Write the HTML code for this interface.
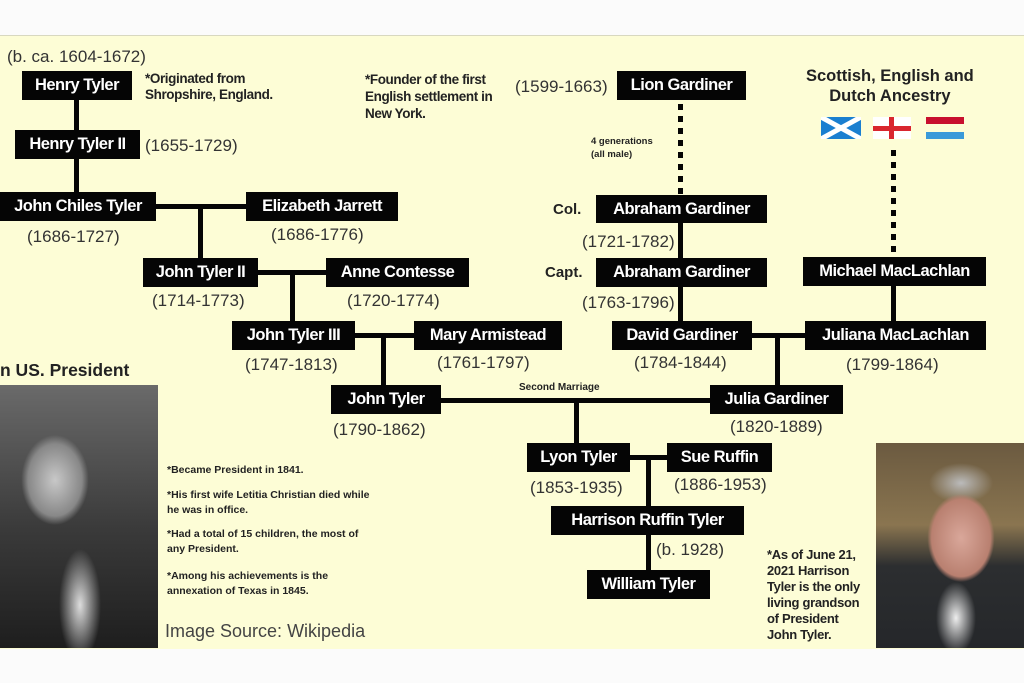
<!DOCTYPE html>
<html><head><meta charset="utf-8"><style>
body{margin:0;width:1024px;height:683px;background:#fbfbfb;position:relative;overflow:hidden;font-family:"Liberation Sans",Arial,sans-serif}
#bg{position:absolute;left:0;top:35px;width:1024px;height:613px;background:#fdfdd6;border-top:1px solid #d8d8c0}
.b{position:absolute;background:#050505;color:#fff;font-weight:bold;font-size:16.5px;display:flex;align-items:center;justify-content:center;white-space:nowrap;letter-spacing:-0.5px}
.l{position:absolute;background:#050505}
.d{position:absolute;color:#333;font-size:17px;white-space:nowrap}
.n{position:absolute;color:#222;font-weight:bold;font-size:10.5px;line-height:15px}
.dot{position:absolute;width:5px;background:repeating-linear-gradient(#050505 0 6px,transparent 6px 12px)}
</style></head><body>
<div id="bg"></div>
<div class="l" style="left:74px;top:99px;width:5px;height:94px"></div>
<div class="l" style="left:156px;top:204px;width:90px;height:5px"></div>
<div class="l" style="left:198px;top:206px;width:5px;height:53px"></div>
<div class="l" style="left:258px;top:270px;width:68px;height:5px"></div>
<div class="l" style="left:290px;top:272px;width:5px;height:50px"></div>
<div class="l" style="left:355px;top:333px;width:59px;height:5px"></div>
<div class="l" style="left:381px;top:335px;width:5px;height:51px"></div>
<div class="l" style="left:441px;top:398px;width:269px;height:5px"></div>
<div class="l" style="left:574px;top:400px;width:5px;height:44px"></div>
<div class="l" style="left:630px;top:455px;width:37px;height:5px"></div>
<div class="l" style="left:646px;top:457px;width:5px;height:114px"></div>
<div class="dot" style="left:678px;top:104px;height:92px"></div>
<div class="l" style="left:678px;top:222px;width:5px;height:100px"></div>
<div class="l" style="left:752px;top:333px;width:53px;height:5px"></div>
<div class="l" style="left:775px;top:335px;width:5px;height:51px"></div>
<div class="dot" style="left:891px;top:150px;height:108px"></div>
<div class="l" style="left:891px;top:285px;width:5px;height:37px"></div>
<div class="b" style="left:22px;top:71px;width:110px;height:29px">Henry Tyler</div>
<div class="b" style="left:15px;top:130px;width:125px;height:29px">Henry Tyler II</div>
<div class="b" style="left:0;top:192px;width:156px;height:29px">John Chiles Tyler</div>
<div class="b" style="left:246px;top:192px;width:152px;height:29px">Elizabeth Jarrett</div>
<div class="b" style="left:143px;top:258px;width:115px;height:29px">John Tyler II</div>
<div class="b" style="left:326px;top:258px;width:143px;height:29px">Anne Contesse</div>
<div class="b" style="left:232px;top:321px;width:123px;height:29px">John Tyler III</div>
<div class="b" style="left:414px;top:321px;width:148px;height:29px">Mary Armistead</div>
<div class="b" style="left:331px;top:385px;width:110px;height:29px">John Tyler</div>
<div class="b" style="left:710px;top:385px;width:133px;height:29px">Julia Gardiner</div>
<div class="b" style="left:617px;top:71px;width:129px;height:29px">Lion Gardiner</div>
<div class="b" style="left:596px;top:195px;width:171px;height:28px">Abraham Gardiner</div>
<div class="b" style="left:596px;top:258px;width:171px;height:29px">Abraham Gardiner</div>
<div class="b" style="left:612px;top:321px;width:140px;height:29px">David Gardiner</div>
<div class="b" style="left:803px;top:257px;width:183px;height:29px">Michael MacLachlan</div>
<div class="b" style="left:805px;top:321px;width:181px;height:29px">Juliana MacLachlan</div>
<div class="b" style="left:527px;top:443px;width:103px;height:29px">Lyon Tyler</div>
<div class="b" style="left:667px;top:443px;width:105px;height:29px">Sue Ruffin</div>
<div class="b" style="left:551px;top:506px;width:193px;height:29px">Harrison Ruffin Tyler</div>
<div class="b" style="left:587px;top:570px;width:123px;height:29px">William Tyler</div>
<div class="d" style="left:7px;top:47px">(b. ca. 1604-1672)</div>
<div class="d" style="left:145px;top:136px">(1655-1729)</div>
<div class="d" style="left:27px;top:227px">(1686-1727)</div>
<div class="d" style="left:271px;top:225px">(1686-1776)</div>
<div class="d" style="left:152px;top:291px">(1714-1773)</div>
<div class="d" style="left:347px;top:291px">(1720-1774)</div>
<div class="d" style="left:245px;top:355px">(1747-1813)</div>
<div class="d" style="left:437px;top:353px">(1761-1797)</div>
<div class="d" style="left:333px;top:420px">(1790-1862)</div>
<div class="d" style="left:730px;top:417px">(1820-1889)</div>
<div class="d" style="left:515px;top:77px">(1599-1663)</div>
<div class="d" style="left:582px;top:232px">(1721-1782)</div>
<div class="d" style="left:582px;top:293px">(1763-1796)</div>
<div class="d" style="left:634px;top:353px">(1784-1844)</div>
<div class="d" style="left:846px;top:355px">(1799-1864)</div>
<div class="d" style="left:530px;top:478px">(1853-1935)</div>
<div class="d" style="left:674px;top:475px">(1886-1953)</div>
<div class="d" style="left:656px;top:540px">(b. 1928)</div>
<div class="d" style="left:553px;top:201px;font-weight:bold;color:#222;font-size:15px">Col.</div>
<div class="d" style="left:545px;top:264px;font-weight:bold;color:#222;font-size:15px">Capt.</div>
<div class="n" style="left:519px;top:380px;font-size:10px">Second Marriage</div>
<div class="n" style="left:591px;top:135px;font-size:9.5px;line-height:13px">4 generations<br>(all male)</div>
<div class="n" style="left:145px;top:71px;font-size:13.5px;line-height:16px;letter-spacing:-0.4px">*Originated from<br>Shropshire, England.</div>
<div class="n" style="left:365px;top:71px;font-size:13.5px;line-height:17px;letter-spacing:-0.4px">*Founder of the first<br>English settlement in<br>New York.</div>
<div class="d" style="left:806px;top:66px;font-weight:bold;color:#222;text-align:center;line-height:20px;font-size:16.5px">Scottish, English and<br>Dutch Ancestry</div>
<svg style="position:absolute;left:821px;top:117px" width="40" height="22"><rect width="40" height="22" fill="#1a7fd0"/><path d="M0 0L40 22M40 0L0 22" stroke="#fff" stroke-width="5"/></svg>
<svg style="position:absolute;left:873px;top:117px" width="38" height="22"><rect width="38" height="22" fill="#fff"/><rect x="16" width="5" height="22" fill="#d9262e"/><rect y="9" width="38" height="5" fill="#d9262e"/></svg>
<svg style="position:absolute;left:926px;top:117px" width="38" height="22"><rect width="38" height="7" fill="#c8102e"/><rect y="7" width="38" height="8" fill="#fdfdd6"/><rect y="15" width="38" height="7" fill="#3a9ad9"/></svg>
<div class="d" style="left:0;top:360px;font-weight:bold;color:#222;font-size:17.5px">n US. President</div>
<div style="position:absolute;left:0;top:385px;width:158px;height:263px;background:radial-gradient(ellipse 45px 60px at 55px 95px,#c8c8c8,#888 60%,transparent 75%),radial-gradient(ellipse 30px 80px at 80px 220px,#ddd,transparent 70%),linear-gradient(#6a6a6a,#3a3a3a 55%,#1e1e1e)"></div>
<div class="n" style="left:167px;top:463px">*Became President in 1841.</div>
<div class="n" style="left:167px;top:488px">*His first wife Letitia Christian died while<br>he was in office.</div>
<div class="n" style="left:167px;top:527px">*Had a total of 15 children, the most of<br>any President.</div>
<div class="n" style="left:167px;top:569px">*Among his achievements is the<br>annexation of Texas in 1845.</div>
<div class="d" style="left:165px;top:621px;font-size:18px;color:#444">Image Source: Wikipedia</div>
<div class="n" style="left:767px;top:547px;font-size:13px;line-height:16px;letter-spacing:-0.3px">*As of June 21,<br>2021 Harrison<br>Tyler is the only<br>living grandson<br>of President<br>John Tyler.</div>
<div style="position:absolute;left:876px;top:443px;width:148px;height:205px;background:radial-gradient(ellipse 42px 55px at 85px 95px,#d9a79a,#b98070 70%,transparent 80%),radial-gradient(ellipse 40px 25px at 85px 40px,#bbb,transparent 80%),radial-gradient(ellipse 25px 45px at 80px 175px,#eee,transparent 80%),linear-gradient(#6b5a40,#8a7550 40%,#2c2e30 60%,#25272a)"></div>
</body></html>
